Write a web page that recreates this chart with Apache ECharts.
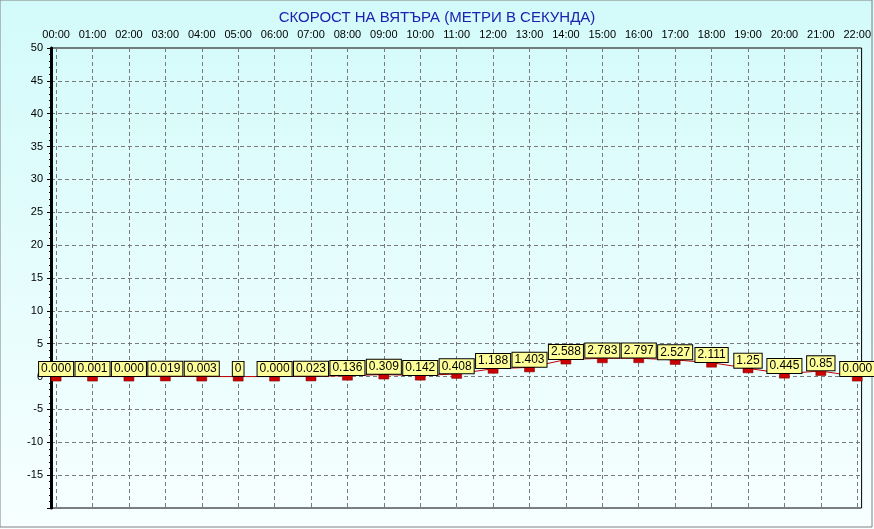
<!DOCTYPE html>
<html>
<head>
    <meta charset="utf-8">
    <title>Скорост на вятъра</title>
    <script src="https://cdn.jsdelivr.net/npm/echarts@6/dist/echarts.min.js"></script>
    <style>
        html, body { margin: 0; padding: 0; }
        #chart1 { width: 874px; height: 529px; }
    </style>
</head>
<body>
<div id="chart1"></div>
<script type="text/javascript">
    // часове (ос X)
    var hours = ['00:00', '01:00', '02:00', '03:00', '04:00', '05:00', '06:00', '07:00', '08:00', '09:00', '10:00', '11:00',
        '12:00', '13:00', '14:00', '15:00', '16:00', '17:00', '18:00', '19:00', '20:00', '21:00', '22:00'];
    // скорост на вятъра, м/с
    var windSpeed = [0, 0.001, 0, 0.019, 0.003, 0, 0, 0.023, 0.136, 0.309, 0.142, 0.408,
        1.188, 1.403, 2.588, 2.783, 2.797, 2.527, 2.111, 1.25, 0.445, 0.85, 0];
    // надписи над точките
    var pointLabels = ['0.000', '0.001', '0.000', '0.019', '0.003', '0', '0.000', '0.023', '0.136', '0.309', '0.142', '0.408',
        '1.188', '1.403', '2.588', '2.783', '2.797', '2.527', '2.111', '1.25', '0.445', '0.85', '0.000'];
    var yTicks = [50, 45, 40, 35, 30, 25, 20, 15, 10, 5, 0, -5, -10, -15];

    var hourIdx = hours.map(function (h, i) { return i; });
    var seriesData = windSpeed.map(function (v, i) { return [i, v]; });

    var myChart1 = echarts.init(document.getElementById('chart1'));
    myChart1.setOption({
        animation: false,
        backgroundColor: {
            type: 'linear', x: 0, y: 0, x2: 0, y2: 1,
            colorStops: [{offset: 0, color: '#d3fafa'}, {offset: 1, color: '#f7ffff'}]
        },
        title: {
            text: 'СКОРОСТ НА ВЯТЪРА (МЕТРИ В СЕКУНДА)',
            left: 'center',
            top: 5,
            textStyle: {color: '#1c22b0', fontSize: 15, fontWeight: 'normal', fontFamily: 'Liberation Sans'}
        },
        grid: {
            left: 51, right: 8, top: 48, bottom: 21,
            show: true,
            borderColor: '#000',
            borderWidth: 1
        },
        xAxis: {
            type: 'value',
            position: 'top',
            min: -0.14,
            max: 22.12,
            axisLine: {show: false},
            axisTick: {show: false, customValues: hourIdx},
            axisLabel: {
                customValues: hourIdx,
                color: '#000',
                fontSize: 11,
                fontFamily: 'Liberation Sans',
                margin: 8,
                formatter: function (v) { return hours[Math.round(v)]; }
            },
            splitLine: {show: true, lineStyle: {color: '#7a7a7a', type: [4, 3], width: 1}}
        },
        yAxis: {
            type: 'value',
            min: -20,
            max: 50,
            interval: 5,
            axisLine: {show: true, onZero: false, lineStyle: {color: '#000', width: 3}},
            axisTick: {show: true, inside: false, length: 4, lineStyle: {color: '#000'}},
            minorTick: {show: true, splitNumber: 5, length: 2, lineStyle: {color: '#000'}},
            axisLabel: {
                color: '#000',
                fontSize: 11,
                fontFamily: 'Liberation Sans',
                margin: 8,
                showMinLabel: false,
                formatter: function (v) { return yTicks.indexOf(v) >= 0 ? String(v) : ''; }
            },
            splitLine: {show: true, lineStyle: {color: '#7a7a7a', type: [4, 3], width: 1}}
        },
        series: [{
            name: 'Скорост',
            type: 'line',
            data: seriesData,
            symbol: 'rect',
            symbolSize: [10, 5],
            symbolOffset: [0, 2],
            itemStyle: {color: '#cc0000', borderColor: '#800000', borderWidth: 0.5},
            lineStyle: {color: '#c00000', width: 1},
            label: {
                show: true,
                position: 'top',
                distance: 0,
                formatter: function (p) { return pointLabels[p.dataIndex]; },
                color: '#000',
                fontSize: 12,
                fontFamily: 'Liberation Sans',
                backgroundColor: '#ffff99',
                borderColor: '#000',
                borderWidth: 1,
                padding: [1, 2, 1, 2]
            },
            z: 5
        }],
        graphic: [{
            type: 'rect',
            shape: {x: 0, y: 0, width: 872, height: 527},
            style: {fill: 'none', stroke: '#808080', lineWidth: 1},
            silent: true
        }]
    });
</script>
</body>
</html>
